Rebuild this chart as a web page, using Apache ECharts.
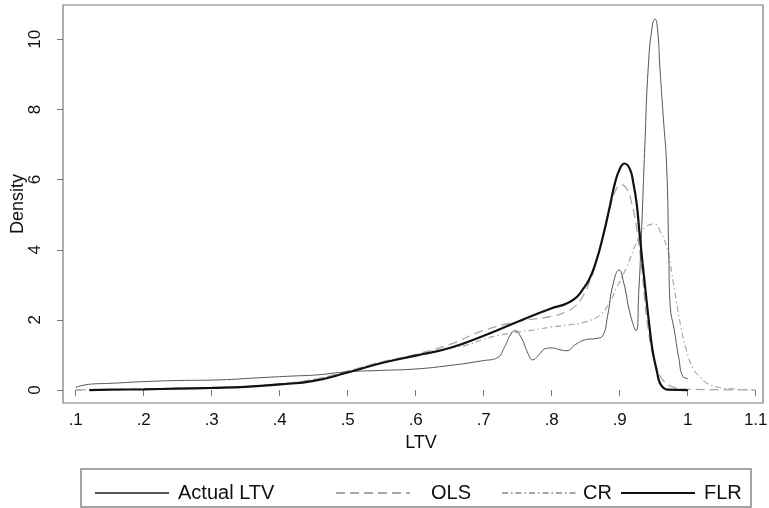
<!DOCTYPE html>
<html><head><meta charset="utf-8">
<script src="https://cdn.jsdelivr.net/npm/echarts@6/dist/echarts.min.js"></script>
<style>html,body{margin:0;padding:0;background:#fff}#c{width:769px;height:508px}</style>
</head><body><div id="c"></div>
<script>
var xTicks = [0.1,0.2,0.3,0.4,0.5,0.6,0.7,0.8,0.9,1.0,1.1];
var xTickLabels = ['.1','.2','.3','.4','.5','.6','.7','.8','.9','1','1.1'];
var yTicks = [0,2,4,6,8,10];
var seriesNames = ['Actual LTV','OLS','CR','FLR'];

var actualX = [0.1,0.123,0.15,0.2,0.25,0.312,0.37,0.42,0.454,0.5,0.55,0.6,0.65,0.7,0.72,0.73,0.74,0.746,0.755,0.765,0.772,0.78,0.792,0.8,0.812,0.822,0.835,0.851,0.865,0.875,0.882,0.89,0.899,0.906,0.915,0.924,0.928,0.932,0.937,0.942,0.948,0.952,0.956,0.959,0.964,0.969,0.972,0.974,0.981,0.987,0.993,1.0];
var actualY = [0.08,0.17,0.19,0.24,0.27,0.29,0.35,0.4,0.43,0.52,0.56,0.6,0.7,0.84,0.92,1.2,1.6,1.69,1.5,1.05,0.86,0.98,1.19,1.2,1.15,1.12,1.3,1.44,1.47,1.55,2.1,3.0,3.42,3.05,2.2,1.69,2.8,4.47,7.0,9.22,10.4,10.58,10.2,9.22,7.8,6.37,4.0,2.47,1.62,0.9,0.38,0.33];

var olsX = [0.1,0.15,0.2,0.25,0.3,0.35,0.4,0.45,0.5,0.55,0.6,0.65,0.7,0.75,0.8,0.82,0.835,0.845,0.855,0.865,0.875,0.885,0.893,0.902,0.91,0.918,0.925,0.932,0.942,0.954,0.965,0.978,1.0,1.05,1.1];
var olsY = [0,0.01,0.03,0.05,0.07,0.1,0.18,0.3,0.54,0.8,1.02,1.3,1.7,1.95,2.1,2.22,2.4,2.65,3.05,3.6,4.4,5.15,5.65,5.85,5.75,5.3,4.6,3.52,1.71,0.66,0.25,0.09,0.02,0.01,0];

var crX = [0.1,0.15,0.2,0.25,0.3,0.35,0.4,0.45,0.5,0.55,0.6,0.65,0.675,0.7,0.724,0.75,0.772,0.8,0.822,0.851,0.871,0.885,0.895,0.91,0.927,0.939,0.951,0.96,0.969,0.976,0.983,0.99,0.998,1.008,1.018,1.03,1.045,1.06,1.08,1.1];
var crY = [0,0.01,0.03,0.05,0.07,0.1,0.18,0.3,0.54,0.8,1.0,1.2,1.28,1.45,1.57,1.65,1.71,1.8,1.85,1.95,2.14,2.5,2.9,3.5,4.3,4.66,4.73,4.5,4.09,3.4,2.57,1.8,1.14,0.6,0.38,0.17,0.08,0.04,0.015,0];

var flrX = [0.12,0.15,0.2,0.25,0.3,0.35,0.4,0.45,0.5,0.55,0.6,0.65,0.7,0.75,0.8,0.82,0.835,0.845,0.855,0.865,0.875,0.885,0.893,0.9,0.907,0.915,0.92,0.925,0.929,0.937,0.945,0.949,0.955,0.959,0.965,0.97,1.0];
var flrY = [0,0.01,0.02,0.04,0.06,0.09,0.16,0.26,0.5,0.77,0.98,1.2,1.55,1.95,2.33,2.45,2.62,2.85,3.15,3.65,4.35,5.2,5.9,6.3,6.46,6.3,5.9,5.3,4.5,3.0,1.6,1.05,0.5,0.2,0.05,0.01,0];

function pairs(xs, ys){ return xs.map(function(x,i){ return [x, ys[i]]; }); }

var chart = echarts.init(document.getElementById('c'), null, {renderer:'canvas'});
var FONT = 'Liberation Sans';
var styles = [
  {color:'#555', width:1, type:'solid'},
  {color:'#a8a8a8', width:1.3, type:[9,5]},
  {color:'#a8a8a8', width:1.2, type:[6,3,1.5,3]},
  {color:'#111', width:2.2, type:'solid'}
];
var dataSets = [pairs(actualX,actualY), pairs(olsX,olsY), pairs(crX,crY), pairs(flrX,flrY)];
var series = seriesNames.map(function(n,i){
  return {
    name:n, type:'line', data:dataSets[i], symbol:'none', showSymbol:false,
    smooth:0.5, z: (i===3?5:(i===0?4:3)),
    lineStyle:{color:styles[i].color, width:styles[i].width, type:styles[i].type},
    itemStyle:{color:styles[i].color}
  };
});
var legendLefts = [89, 330, 496, 615];
var legendPads = [4, 16, 2, 4];
var legends = seriesNames.map(function(n,i){
  return {
    data:[n], left:legendLefts[i], top:478, orient:'horizontal',
    itemWidth:74, itemHeight:18, selectedMode:false,
    itemStyle:{opacity:0},
    textStyle:{fontFamily:FONT, fontSize:20, color:'#111', padding:[0,0,0,legendPads[i]]}
  };
});
chart.setOption({
  animation:false,
  grid:{left:63, top:5, right:6, bottom:105, containLabel:false, outerBoundsMode:'none',
        show:true, borderColor:'#777', borderWidth:1.2, backgroundColor:'#fff'},
  legend: legends,
  graphic:[{type:'rect', shape:{x:81, y:469, width:670, height:38}, style:{fill:'none', stroke:'#888', lineWidth:1.5}, z:-1}],
  xAxis:{
    type:'value', min:0.0813, max:1.1107,
    name:'LTV', nameLocation:'middle', nameGap:25,
    nameTextStyle:{fontFamily:FONT, fontSize:18, color:'#111', padding:[0,0,0,16]},
    splitLine:{show:false}, axisLine:{show:false},
    axisTick:{show:true, length:6, customValues:xTicks, lineStyle:{color:'#777'}},
    axisLabel:{customValues:xTicks, margin:9, fontFamily:FONT, fontSize:17, color:'#111',
      formatter:function(v){ var k = xTicks.findIndex(function(t){return Math.abs(t-v)<1e-6;}); return k>=0? xTickLabels[k] : ''; }}
  },
  yAxis:{
    type:'value', min:-0.37, max:10.98,
    name:'Density', nameLocation:'middle', nameGap:36, nameMoveOverlap:false,
    nameTextStyle:{fontFamily:FONT, fontSize:18, color:'#111'},
    splitLine:{show:false}, axisLine:{show:false},
    axisTick:{show:true, length:6, customValues:yTicks, lineStyle:{color:'#777'}},
    axisLabel:{customValues:yTicks, rotate:90, margin:19, fontFamily:FONT, fontSize:17, color:'#111'}
  },
  series: series
});
</script></body></html>
